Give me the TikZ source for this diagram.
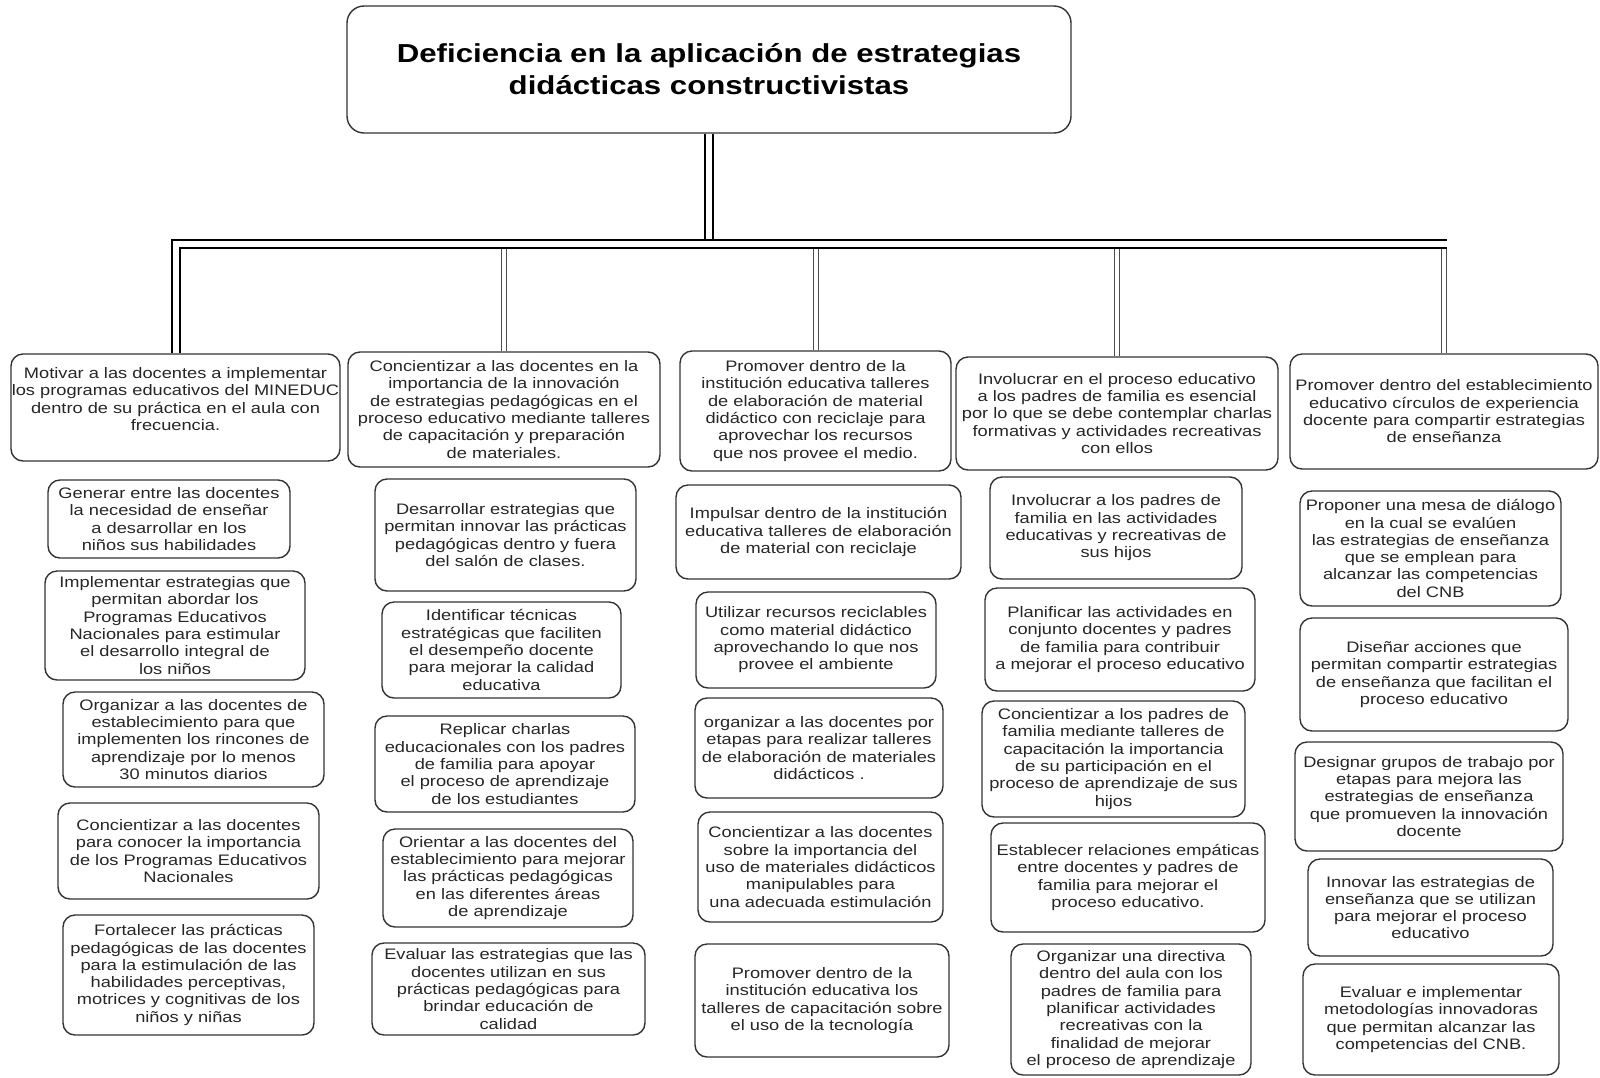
\documentclass[tikz,border=0pt]{standalone}
\usepackage{fontspec}
\setmainfont{Liberation Sans}[FakeStretch=1.2]
\usepackage{xcolor}
\usepackage{tikz}
\definecolor{boxline}{HTML}{333333}
\definecolor{boxtext}{HTML}{262626}
\definecolor{linkgray}{HTML}{4D4D4D}

\begin{document}
\begin{tikzpicture}[x=0.5pt, y=-0.5pt,
        idea/.style={draw=boxline, rounded corners=6pt, line width=0.7pt, inner sep=0pt, align=center, text=boxtext, font=\fontsize{7.6}{8.65}\selectfont},
        boxsize/.style 2 args={minimum width=#1*0.5pt, minimum height=#2*0.5pt},
        trunk/.style={draw=black, line width=1pt, double=white, double distance=3pt},
        branch/.style={draw=linkgray, line width=0.5pt, double=white, double distance=2pt}]
        \useasboundingbox (0,0) rectangle (1600,1077);

        % Problem
        \node[draw=boxline, rounded corners=8.5pt, line width=0.7pt, boxsize={724}{127}, align=center, font=\fontsize{13}{16}\selectfont\bfseries] (title) at (709,69.5) {Deficiencia en la aplicación de estrategias\\didácticas constructivistas};

        % Column 1
        \node[idea, boxsize={329}{107}] (h1) at (175.5,407.5) {Motivar a las docentes a implementar\\los programas educativos del MINEDUC\\dentro de su práctica en el aula con\\frecuencia.\\ \mbox{}};
        \node[idea, boxsize={242}{78}] (c1a) at (169,519) {Generar entre las docentes\\la necesidad de enseñar\\a desarrollar en los\\niños sus habilidades};
        \node[idea, boxsize={260}{109}] (c1b) at (175,625.5) {Implementar estrategias que\\permitan abordar los\\Programas Educativos\\Nacionales para estimular\\el desarrollo integral de\\los niños};
        \node[idea, boxsize={261}{95}] (c1c) at (193.5,739.5) {Organizar a las docentes de\\establecimiento para que\\implementen los rincones de\\aprendizaje por lo menos\\30 minutos diarios};
        \node[idea, boxsize={261}{96}] (c1d) at (188.5,851) {Concientizar a las docentes\\para conocer la importancia\\de los Programas Educativos\\Nacionales};
        \node[idea, boxsize={251}{120}] (c1e) at (188.5,975) {Fortalecer las prácticas\\pedagógicas de las docentes\\para la estimulación de las\\habilidades perceptivas,\\motrices y cognitivas de los\\niños y niñas};

        % Column 2
        \node[idea, boxsize={312}{115}] (h2) at (504,409.5) {Concientizar a las docentes en la\\importancia de la innovación\\de estrategias pedagógicas en el\\proceso educativo mediante talleres\\de capacitación y preparación\\de materiales.};
        \node[idea, boxsize={261}{112}] (c2a) at (505.5,535) {Desarrollar estrategias que\\permitan innovar las prácticas\\pedagógicas dentro y fuera\\del salón de clases.};
        \node[idea, boxsize={239}{96}] (c2b) at (501.5,650) {Identificar técnicas\\estratégicas que faciliten\\el desempeño docente\\para mejorar la calidad\\educativa};
        \node[idea, boxsize={260}{96}] (c2c) at (505,764) {Replicar charlas\\educacionales  con los padres\\de familia para apoyar\\el proceso de aprendizaje\\de los estudiantes};
        \node[idea, boxsize={250}{98}] (c2d) at (508,878) {Orientar a las docentes del\\establecimiento para mejorar\\las prácticas pedagógicas\\en las diferentes áreas\\de aprendizaje};
        \node[idea, boxsize={273}{92}] (c2e) at (508.5,989) {Evaluar las estrategias que las\\docentes utilizan en sus\\prácticas pedagógicas para\\brindar educación de\\calidad};

        % Column 3
        \node[idea, boxsize={271}{120}] (h3) at (815.5,411) {Promover dentro de la\\institución educativa talleres\\de elaboración de material\\didáctico con reciclaje para\\aprovechar los recursos\\que nos provee el medio.};
        \node[idea, boxsize={285}{94}] (c3a) at (818.5,532) {Impulsar dentro de la institución\\educativa talleres de elaboración\\de material con reciclaje};
        \node[idea, boxsize={240}{96}] (c3b) at (816,640) {Utilizar recursos reciclables\\como material didáctico\\aprovechando lo que nos\\provee el ambiente};
        \node[idea, boxsize={248}{100}] (c3c) at (819,748) {organizar a las docentes por\\etapas para realizar talleres\\de elaboración de materiales\\didácticos .};
        \node[idea, boxsize={245}{110}] (c3d) at (820.5,867) {Concientizar a las docentes\\sobre la importancia del\\uso de materiales didácticos\\manipulables para\\una adecuada estimulación};
        \node[idea, boxsize={254}{113}] (c3e) at (822,1000.5) {Promover dentro de la\\institución educativa los\\talleres de capacitación sobre\\el  uso de la tecnología};

        % Column 4
        \node[idea, boxsize={322}{113}] (h4) at (1117,413.5) {Involucrar en el proceso educativo\\a los padres de familia es esencial\\por lo que se debe contemplar charlas\\formativas y actividades recreativas\\con ellos};
        \node[idea, boxsize={252}{102}] (c4a) at (1116,528) {Involucrar a los padres de\\familia en las actividades\\educativas y recreativas de\\sus hijos};
        \node[idea, boxsize={270}{103}] (c4b) at (1120,639.5) {Planificar las actividades en\\conjunto docentes y padres\\de familia para contribuir\\a mejorar el proceso educativo};
        \node[idea, boxsize={263}{116}] (c4c) at (1113.5,759) {Concientizar a los padres de\\familia mediante talleres de\\capacitación la importancia\\de su participación en el\\proceso de aprendizaje de sus\\hijos};
        \node[idea, boxsize={274}{109}] (c4d) at (1128,877.5) {Establecer relaciones empáticas\\entre docentes y padres de\\familia para mejorar el\\proceso educativo.};
        \node[idea, boxsize={240}{131}] (c4e) at (1131,1009.5) {Organizar una directiva\\dentro del aula con los\\padres de familia para\\planificar actividades\\recreativas con la\\finalidad de mejorar\\el proceso de aprendizaje};

        % Column 5
        \node[idea, boxsize={308}{115}] (h5) at (1444,411.5) {Promover dentro del establecimiento\\educativo círculos de experiencia\\docente para compartir estrategias\\de enseñanza};
        \node[idea, boxsize={261}{115}] (c5a) at (1430.5,548.5) {Proponer una mesa de diálogo\\en la cual se evalúen\\las estrategias  de enseñanza\\que se emplean para\\alcanzar las competencias\\del CNB};
        \node[idea, boxsize={268}{113}] (c5b) at (1434,674.5) {Diseñar acciones  que\\permitan compartir estrategias\\de enseñanza  que facilitan el\\proceso educativo};
        \node[idea, boxsize={268}{109}] (c5c) at (1429,796.5) {Designar grupos de trabajo por\\etapas para mejora las\\estrategias de enseñanza\\que promueven la innovación\\docente};
        \node[idea, boxsize={245}{97}] (c5d) at (1430.5,907.5) {Innovar las estrategias de\\enseñanza  que se utilizan\\para mejorar el proceso\\educativo};
        \node[idea, boxsize={256}{111}] (c5e) at (1431,1019.5) {Evaluar e implementar\\metodologías innovadoras\\que permitan alcanzar las\\competencias del CNB.};

        % Connectors
        \coordinate (busR) at (1447,244);
        \foreach \h in {h2,h3,h4,h5}
            \draw[branch] (\h.north) -- (\h.north |- busR);
        \draw[trunk] (h1.north) |- (busR);
        \draw[trunk, shorten >=2.5pt] (title.south) -- (title.south |- busR);
    \end{tikzpicture}
\end{document}
